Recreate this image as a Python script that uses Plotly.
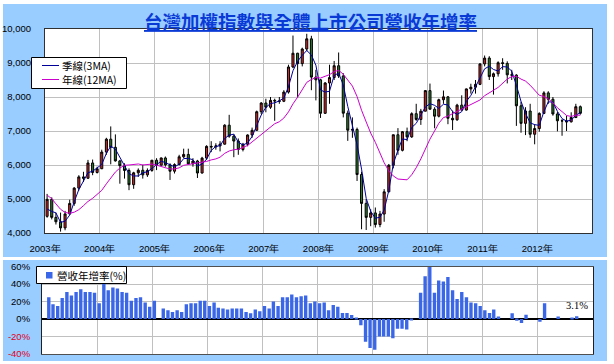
import pandas as pd
import plotly.graph_objects as go

# ---------------- data ----------------
# closes of 2002 (Feb..Dec) only used so the moving averages start like the reference
prior_closes_2002 = [5696, 6167, 6065, 5675, 5153, 4940, 4764, 4191, 4579, 4680, 4452]

candle_open = [
    4490, 4990, 4460, 4330, 4150, 4560, 4870, 5320, 5650, 5610, 6060, 5780,   # 2003
    5890, 6380, 6760, 6520, 6120, 5980, 5840, 5420, 5770, 5845, 5710, 5840,   # 2004
    6140, 5994, 6207, 6005, 5818, 6012, 6241, 6311, 6033, 6118, 5764, 6203,   # 2005
    6548, 6532, 6561, 6613, 7171, 6847, 6704, 6455, 6611, 6883, 7021, 7567,   # 2006
    7823, 7699, 7901, 7884, 7875, 8145, 8883, 9287, 8982, 9411, 9711, 8586,   # 2007
    8506, 7521, 8412, 8572, 8920, 8619, 7524, 7024, 7046, 5720, 4871, 4460,   # 2008
    4591, 4248, 4557, 5211, 5992, 6890, 6432, 6979, 6826, 7509, 7340, 7582,   # 2009
    8188, 7640, 7436, 7920, 8004, 7374, 7329, 7761, 7616, 8238, 8287, 8372,   # 2010
    8972, 9145, 8600, 8683, 9008, 8988, 8652, 8644, 7741, 7225, 7588, 6904,   # 2011
    7072, 7517, 8121, 7933, 7501, 7301, 7296, 7270, 7397, 7715,               # 2012
]
candle_high = [
    5150, 5050, 4600, 4600, 4650, 4980, 5350, 5700, 5800, 6150, 6160, 5950,
    6450, 6800, 7135, 6900, 6150, 6050, 5900, 5800, 5900, 6010, 5900, 6150,
    6200, 6220, 6250, 6050, 6050, 6300, 6480, 6480, 6200, 6150, 6240, 6580,
    6700, 6640, 6700, 7200, 7476, 6900, 6780, 6650, 6900, 7100, 7600, 7850,
    7950, 8000, 7950, 8000, 8200, 8950, 9807, 9300, 9450, 9859, 9800, 8800,
    8530, 8440, 8950, 9060, 9309, 8700, 7600, 7400, 7100, 5800, 5000, 4700,
    4750, 4650, 5290, 6030, 6890, 7084, 7000, 7100, 7550, 7800, 7650, 8200,
    8395, 7700, 7950, 8190, 8030, 7600, 7800, 8050, 8250, 8390, 8500, 8990,
    9220, 9200, 8720, 9050, 9140, 9050, 8800, 8670, 7860, 7700, 7800, 7200,
    7550, 8170, 8170, 8000, 7560, 7350, 7450, 7550, 7800, 7750,
]
candle_low = [
    4450, 4400, 4250, 4040, 4080, 4550, 4800, 5250, 5500, 5600, 5700, 5750,
    5880, 6300, 6020, 6100, 5450, 5600, 5260, 5300, 5650, 5600, 5650, 5800,
    5850, 5990, 5950, 5560, 5750, 5990, 6200, 6020, 5950, 5618, 5750, 6150,
    6380, 6450, 6400, 6600, 6800, 6230, 6300, 6400, 6550, 6800, 7000, 7500,
    7550, 7650, 7300, 7800, 7850, 8100, 8850, 7987, 8900, 9350, 8200, 7900,
    7384, 7500, 7800, 8500, 8560, 7400, 6710, 6800, 5530, 4110, 4089, 4200,
    4160, 4170, 4330, 5200, 5900, 6300, 6400, 6700, 6800, 7300, 7180, 7580,
    7640, 7080, 7400, 7800, 7200, 7030, 7300, 7600, 7600, 8100, 8100, 8350,
    8900, 8500, 8070, 8600, 8800, 8400, 8500, 7150, 6950, 6880, 6800, 6609,
    6980, 7500, 7800, 7450, 6990, 6860, 7000, 7250, 7380, 7480,
]
candle_close = [
    4990, 4460, 4330, 4150, 4560, 4870, 5320, 5650, 5610, 6060, 5780, 5890,
    6380, 6760, 6520, 6120, 5980, 5840, 5420, 5770, 5845, 5710, 5840, 6140,
    5994, 6207, 6005, 5818, 6012, 6241, 6311, 6033, 6118, 5764, 6203, 6548,
    6532, 6561, 6613, 7171, 6847, 6704, 6455, 6611, 6883, 7021, 7567, 7823,
    7699, 7901, 7884, 7875, 8145, 8883, 9287, 8982, 9411, 9711, 8586, 8506,
    7521, 8412, 8572, 8920, 8619, 7524, 7024, 7046, 5720, 4871, 4460, 4591,
    4248, 4557, 5211, 5992, 6890, 6432, 6979, 6826, 7509, 7340, 7582, 8188,
    7640, 7436, 7920, 8004, 7374, 7329, 7761, 7616, 8238, 8287, 8372, 8972,
    9145, 8600, 8683, 9008, 8988, 8652, 8644, 7741, 7225, 7588, 6904, 7072,
    7517, 8121, 7933, 7501, 7301, 7296, 7270, 7397, 7715, 7520,
]

# revenue YoY growth (%) of all listed companies, 2003-02 .. 2012-09
revenue_yoy = [
    25, 17, 15, 24, 31, 27, 31, 34, 31, 31, 30,                 # 2003-02..12
    18, 40, 33, 36, 35, 31, 30, 21, 24, 25, 19, 14,             # 2004
    21, 0, 12, 10, 8, 10, 8, 17, 18, 18, 21, 21,                # 2005
    15, 19, 13, 12, 11, 12, 12, 12, 8, 6.5, 11, 9,              # 2006
    15, 12, 20, 15, 25, 25, 28, 25, 26, 27, 18, 20,             # 2007
    18, 19, 10, 16, 14, 7, 7, 4.6, 1, -7, -26, -33,             # 2008
    -35, -20, -20, -20, -22, -11, -11, -12, -1, 0, 30, 49,      # 2009
    60, 30, 44, 43, 48, 33, 23, 31, 25, 19, 18, 15,             # 2010
    10, 7, 11, 3, 0, 0, 6.5, -2, -4.6, 5, 0, 0,                 # 2011
    -3, 18, 0, 0, 3, 0, 0, 1.5, 3.1,                            # 2012-01..09
]

year_ticks = [str(y) for y in range(2003, 2013)]
year_labels = [y + "年" for y in year_ticks]
last_label = "3.1%"
title_text = "台灣加權指數與全體上市公司營收年增率"
ma3_name = "季線(3MA)"
ma12_name = "年線(12MA)"
bar_name = "營收年增率(%)"

# ---------------- derived ----------------
candle_x = [d.strftime("%Y-%m-15") for d in pd.date_range("2003-01-01", periods=len(candle_close), freq="MS")]
bar_x = [d.strftime("%Y-%m-15") for d in pd.date_range("2003-02-01", periods=len(revenue_yoy), freq="MS")]

all_close = pd.Series(prior_closes_2002 + candle_close)
n_prior = len(prior_closes_2002)
ma3 = all_close.rolling(3).mean().iloc[n_prior:].tolist()
ma12 = all_close.rolling(12).mean().iloc[n_prior:].tolist()

# ---------------- figure ----------------
W, H = 614, 364
C_MA3, C_MA12, C_BAR = "#000099", "#cc00cc", "#3a66e8"
fig = go.Figure()

fig.add_trace(go.Candlestick(
    x=candle_x, open=candle_open, high=candle_high, low=candle_low, close=candle_close,
    increasing=dict(line=dict(color="black", width=1), fillcolor="#d02a2a"),
    decreasing=dict(line=dict(color="black", width=1), fillcolor="#2f7a2f"),
    whiskerwidth=0, showlegend=False, xaxis="x", yaxis="y", name="加權指數",
))
fig.add_trace(go.Scatter(x=candle_x, y=ma3, mode="lines", name=ma3_name, showlegend=False,
                         line=dict(color=C_MA3, width=1), xaxis="x", yaxis="y"))
fig.add_trace(go.Scatter(x=candle_x, y=ma12, mode="lines", name=ma12_name, showlegend=False,
                         line=dict(color=C_MA12, width=1), xaxis="x", yaxis="y"))
fig.add_trace(go.Bar(x=bar_x, y=revenue_yoy, name=bar_name, showlegend=False,
                     marker=dict(color=C_BAR, line=dict(width=0)), xaxis="x2", yaxis="y2"))


def px(v):
    return v / W


def py(v):
    return 1 - v / H


annotations = [
    dict(x=bar_x[-1], y=revenue_yoy[-1], xref="x2", yref="y2", text=last_label,
         showarrow=False, yanchor="bottom", xanchor="center", yshift=3,
         font=dict(family="Liberation Serif", size=10.5, color="black")),
    dict(x=px(310), y=py(21), xref="paper", yref="paper", xanchor="center", yanchor="middle",
         text="<b><u>" + title_text + "</u></b>", showarrow=False,
         font=dict(family="Noto Sans CJK TC", size=18.5, color="#0a3ad6")),
    # legend texts (top panel)
    dict(x=px(60), y=py(65.5), xref="paper", yref="paper", xanchor="left", yanchor="middle",
         text=ma3_name, showarrow=False, font=dict(family="Noto Sans CJK TC", size=10.5, color="black")),
    dict(x=px(60), y=py(79.5), xref="paper", yref="paper", xanchor="left", yanchor="middle",
         text=ma12_name, showarrow=False, font=dict(family="Noto Sans CJK TC", size=10.5, color="black")),
    # legend text (bottom panel)
    dict(x=px(55), y=py(275), xref="paper", yref="paper", xanchor="left", yanchor="middle",
         text=bar_name, showarrow=False, font=dict(family="Noto Sans CJK TC", size=10.5, color="black")),
]

shapes = [
    # panel backgrounds
    dict(type="rect", xref="paper", yref="paper", x0=px(3), x1=px(607), y0=py(257), y1=py(4),
         fillcolor="#99ccff", line=dict(width=0), layer="below"),
    dict(type="rect", xref="paper", yref="paper", x0=px(3), x1=px(607), y0=py(361), y1=py(260),
         fillcolor="#99ccff", line=dict(width=0), layer="below"),
    dict(type="rect", xref="x domain", yref="y domain", x0=0, x1=1, y0=0, y1=1,
         fillcolor="white", line=dict(width=0), layer="below"),
    dict(type="rect", xref="x2 domain", yref="y2 domain", x0=0, x1=1, y0=0, y1=1,
         fillcolor="white", line=dict(width=0), layer="below"),
    # legend boxes
    dict(type="rect", xref="paper", yref="paper", x0=px(31.5), x1=px(126.5), y0=py(88.5), y1=py(57.5),
         fillcolor="white", line=dict(color="black", width=1), layer="above"),
    dict(type="line", xref="paper", yref="paper", x0=px(42), x1=px(59), y0=py(65.5), y1=py(65.5),
         line=dict(color=C_MA3, width=1), layer="above"),
    dict(type="line", xref="paper", yref="paper", x0=px(42), x1=px(59), y0=py(79.5), y1=py(79.5),
         line=dict(color=C_MA12, width=1), layer="above"),
    dict(type="rect", xref="paper", yref="paper", x0=px(36.5), x1=px(126.5), y0=py(283.5), y1=py(266.5),
         fillcolor="white", line=dict(color="black", width=1), layer="above"),
    dict(type="rect", xref="paper", yref="paper", x0=px(46), x1=px(52.5), y0=py(278.5), y1=py(272),
         fillcolor=C_BAR, line=dict(width=0), layer="above"),
]

tick_font = dict(family="Liberation Sans", size=9.5, color="black")
grid = "#c0c0c0"
xrange = ["2003-01-01", "2013-01-01"]

neg_red = "#e00020"
y2_vals = [-40, -20, 0, 20, 40, 60]
y2_text = [(f'<span style="color:{neg_red}">{v}%</span>' if v < 0 else f"{v}%") for v in y2_vals]

fig.update_layout(
    width=W, height=H, autosize=False,
    margin=dict(l=0, r=0, t=0, b=0, pad=0),
    paper_bgcolor="white", plot_bgcolor="white",
    shapes=shapes, annotations=annotations,
    bargap=0.2, showlegend=False, hovermode=False,
    xaxis=dict(
        domain=[px(45), px(592)], type="date", range=xrange, anchor="y", automargin=False,
        tickvals=[y + "-01-01" for y in year_ticks], ticktext=year_labels,
        showgrid=True, gridcolor=grid, gridwidth=1,
        showline=True, linecolor="#303030", linewidth=1, mirror=True,
        ticks="", tickfont=tick_font, ticklabelstandoff=7,
        rangeslider=dict(visible=False), fixedrange=True,
    ),
    yaxis=dict(
        domain=[py(233), py(29)], range=[4000, 10000], dtick=1000, tick0=4000,
        tickformat=",d", anchor="x", automargin=False,
        showgrid=True, gridcolor=grid, gridwidth=1,
        showline=True, linecolor="#303030", linewidth=1, mirror=True,
        ticks="", tickfont=tick_font, ticklabelstandoff=11, zeroline=False,
    ),
    xaxis2=dict(
        domain=[px(42), px(593)], type="date", range=xrange, anchor="y2", automargin=False,
        tickvals=[y + "-01-01" for y in year_ticks], showticklabels=False,
        showgrid=True, gridcolor=grid, gridwidth=1,
        showline=True, linecolor="#505050", linewidth=1, mirror=True, ticks="",
    ),
    yaxis2=dict(
        domain=[py(354), py(266.5)], range=[-40, 60], anchor="x2", automargin=False,
        tickvals=y2_vals, ticktext=y2_text,
        showgrid=True, gridcolor=grid, gridwidth=1,
        showline=True, linecolor="#202020", linewidth=1, mirror=True,
        zeroline=True, zerolinecolor="black", zerolinewidth=1.5,
        ticks="", tickfont=tick_font, ticklabelstandoff=9,
    ),
)

# remove the browser's default 8px page margin so the 614x364 figure fills the window exactly
fig.write_html(
    "out.html",
    config={"displayModeBar": False},
    post_script="document.body.style.margin='0px';document.body.style.overflow='hidden';",
)
